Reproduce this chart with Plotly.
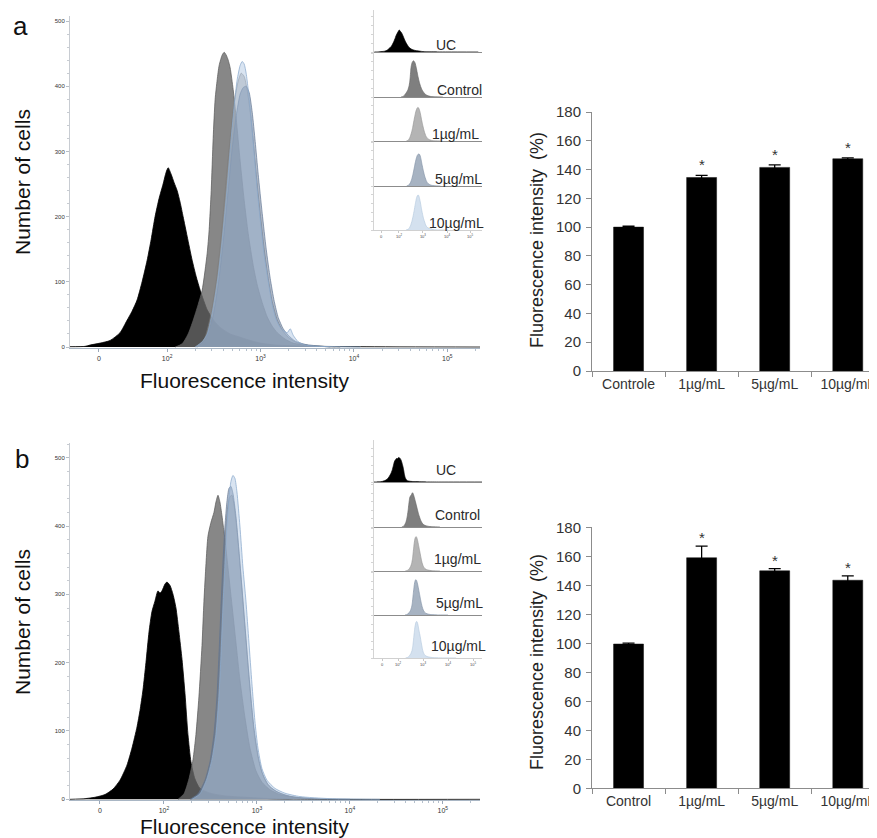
import numpy as np
import plotly.graph_objects as go

# The page body adds an 8px offset; the figure is sized so reference pixel p sits at figure pixel p-8.
OFF = 8
W, H = 877 - OFF, 838 - OFF

# ---------------- DATA ----------------
# Histogram x positions are in axis units (decades of fluorescence: 2 -> 10^2, 3 -> 10^3 ...)
# Panel a histograms
uc_a_x = [0.96, 1.12, 1.175, 1.282, 1.389, 1.496, 1.571, 1.625, 1.678, 1.732, 1.786, 1.829, 1.871, 1.914,
          1.957, 1.989, 2.011, 2.043, 2.075, 2.107, 2.139, 2.171, 2.214, 2.268, 2.311, 2.354, 2.429, 2.504,
          2.568, 2.675, 2.782, 2.890, 2.997, 3.158, 3.318, 3.640, 4.069, 5.35]
uc_a_y = [0.5, 1, 3, 6, 10, 22, 41, 55, 72, 100, 133, 165, 200, 228,
          250, 268, 275, 265, 252, 240, 222, 200, 170, 133, 108, 87, 57, 40,
          30, 20, 15, 10, 6, 3, 2, 1, 0.5, 0]

ctrl_a_x = [2.086, 2.161, 2.225, 2.279, 2.332, 2.375, 2.429, 2.450, 2.472, 2.493, 2.514, 2.536, 2.557, 2.590,
            2.611, 2.632, 2.654, 2.675, 2.707, 2.740, 2.782, 2.825, 2.868, 2.922, 2.965, 3.018, 3.072, 3.125,
            3.179, 3.265, 3.350, 3.533, 3.854]
ctrl_a_y = [0, 5, 20, 41, 65, 87, 144, 180, 240, 320, 380, 410, 432, 448,
            452, 448, 440, 428, 395, 350, 285, 225, 174, 125, 95, 68, 46, 32,
            22, 12, 6, 2, 0]

d1_a_x = [2.311, 2.397, 2.461, 2.525, 2.579, 2.632, 2.675, 2.718, 2.761, 2.793, 2.825, 2.857, 2.890, 2.922,
          2.954, 2.997, 3.040, 3.083, 3.125, 3.179, 3.233, 3.297, 3.383, 3.533, 3.801]
d1_a_y = [0, 12, 45, 100, 170, 255, 320, 375, 408, 420, 415, 395, 360, 315,
          265, 205, 150, 105, 70, 42, 26, 15, 7, 2, 0]

d5_a_x = [2.322, 2.407, 2.482, 2.547, 2.600, 2.654, 2.697, 2.740, 2.782, 2.815, 2.846, 2.879, 2.911, 2.943,
          2.975, 3.018, 3.061, 3.104, 3.147, 3.190, 3.243, 3.297, 3.372, 3.479, 3.747]
d5_a_y = [0, 10, 40, 95, 160, 240, 305, 355, 388, 398, 400, 390, 360, 315,
          265, 205, 150, 105, 70, 45, 28, 18, 9, 4, 0]

d10_a_x = [2.300, 2.375, 2.429, 2.493, 2.547, 2.590, 2.643, 2.686, 2.718, 2.750, 2.782, 2.804, 2.825, 2.846,
           2.868, 2.900, 2.933, 2.965, 2.997, 3.040, 3.083, 3.125, 3.168, 3.211, 3.254, 3.286, 3.318, 3.350,
           3.404, 3.479, 3.640, 4.069]
d10_a_y = [0, 8, 20, 60, 110, 165, 245, 320, 370, 410, 432, 438, 434, 420,
           395, 350, 295, 240, 195, 140, 100, 65, 42, 30, 24, 22, 28, 18,
           8, 3, 1, 0]

# Panel b histograms
uc_b_x = [0.989, 1.151, 1.258, 1.366, 1.452, 1.527, 1.602, 1.656, 1.710, 1.742, 1.774, 1.806, 1.839, 1.871,
          1.903, 1.935, 1.957, 1.978, 2.011, 2.032, 2.065, 2.097, 2.129, 2.161, 2.194, 2.226, 2.258, 2.290,
          2.333, 2.387, 2.495, 2.656, 2.871, 3.140, 3.677, 5.40]
uc_b_y = [0, 1, 3, 7, 15, 28, 50, 75, 106, 130, 160, 200, 245, 275,
          290, 305, 302, 305, 315, 318, 313, 300, 280, 245, 205, 155, 95, 55,
          30, 16, 9, 5, 3, 1, 0, 0]

ctrl_b_x = [2.151, 2.215, 2.269, 2.312, 2.344, 2.376, 2.409, 2.430, 2.452, 2.473, 2.505, 2.538, 2.559, 2.581,
            2.602, 2.624, 2.656, 2.688, 2.731, 2.774, 2.817, 2.871, 2.925, 2.989, 3.054, 3.140, 3.247, 3.409,
            3.677]
ctrl_b_y = [0, 8, 30, 58, 95, 150, 225, 290, 345, 385, 405, 420, 435, 445,
            435, 415, 380, 340, 285, 230, 175, 120, 75, 42, 25, 14, 7, 3,
            0]

d1_b_x = [2.290, 2.376, 2.452, 2.505, 2.548, 2.581, 2.602, 2.624, 2.645, 2.667, 2.688, 2.710, 2.731, 2.753,
          2.785, 2.817, 2.849, 2.882, 2.914, 2.946, 2.978, 3.022, 3.075, 3.140, 3.247, 3.409, 3.677]
d1_b_y = [0, 8, 30, 58, 100, 160, 220, 290, 350, 400, 430, 443, 445, 432,
          395, 345, 290, 235, 180, 130, 90, 55, 32, 18, 9, 3, 0]

d5_b_x = [2.280, 2.366, 2.441, 2.495, 2.538, 2.570, 2.591, 2.613, 2.634, 2.656, 2.677, 2.699, 2.720, 2.742,
          2.774, 2.806, 2.839, 2.871, 2.903, 2.935, 2.968, 3.011, 3.054, 3.118, 3.204, 3.333, 3.570, 4.000]
d5_b_y = [0, 8, 28, 55, 95, 150, 210, 280, 345, 400, 435, 455, 458, 448,
          415, 365, 310, 255, 200, 150, 105, 65, 40, 22, 12, 5, 1, 0]

d10_b_x = [2.301, 2.387, 2.462, 2.516, 2.559, 2.591, 2.613, 2.634, 2.656, 2.677, 2.699, 2.720, 2.742, 2.763,
           2.785, 2.817, 2.849, 2.882, 2.914, 2.946, 2.978, 3.011, 3.054, 3.108, 3.194, 3.301, 3.462, 3.785,
           4.323]
d10_b_y = [0, 8, 30, 58, 95, 150, 210, 280, 345, 400, 440, 465, 474, 470,
           450, 400, 340, 290, 230, 170, 115, 75, 45, 28, 16, 9, 4, 1,
           0]

hist_tick_text = ["0", "10<sup>2</sup>", "10<sup>3</sup>", "10<sup>4</sup>", "10<sup>5</sup>"]
group_names = ["UC", "Control", "1µg/mL", "5µg/mL", "10µg/mL"]

# Bar charts
bar_cats_a = ["Controle", "1µg/mL", "5µg/mL", "10µg/mL"]
bar_vals_a = [100, 134.5, 141.5, 147.5]
bar_errs_a = [0.6, 1.5, 1.8, 0.6]
bar_sig_a = [False, True, True, True]

bar_cats_b = ["Control", "1µg/mL", "5µg/mL", "10µg/mL"]
bar_vals_b = [99.5, 159, 150, 143.5]
bar_errs_b = [0.6, 8, 1.5, 3]
bar_sig_b = [False, True, True, True]

# ---------------- HELPERS ----------------
def fx(p):
    return (p - OFF) / W

def fy(p):
    return 1 - (p - OFF) / H

FONT = "Liberation Sans, Arial, sans-serif"

fills = [
    dict(fill="rgba(0,0,0,1)", line="rgba(0,0,0,1)"),
    dict(fill="rgba(105,105,105,0.80)", line="rgba(90,90,90,0.9)"),
    dict(fill="rgba(150,150,150,0.45)", line="rgba(120,120,120,0.7)"),
    dict(fill="rgba(100,120,150,0.50)", line="rgba(95,115,145,0.85)"),
    dict(fill="rgba(170,195,225,0.45)", line="rgba(140,170,205,0.95)"),
]
inset_fills = [
    dict(fill="#000000", line="#000000"),
    dict(fill="#7f7f7f", line="#6a6a6a"),
    dict(fill="#b4b4b4", line="#9a9a9a"),
    dict(fill="#a7b3c2", line="#8797ab"),
    dict(fill="#d4e1ef", line="#b8cbe0"),
]

fig = go.Figure()
layout = dict(width=W, height=H, margin=dict(l=0, r=0, t=0, b=0, pad=0, autoexpand=False), autosize=False,
              paper_bgcolor="white", plot_bgcolor="rgba(0,0,0,0)", showlegend=False,
              font=dict(family=FONT, color="#222"))
annotations = []

axis_counter = [0]

def new_axes():
    axis_counter[0] += 1
    n = axis_counter[0]
    s = "" if n == 1 else str(n)
    return "x" + s, "y" + s, "xaxis" + s, "yaxis" + s


def main_hist(series, xdom_px, ydom_px, xr, yr, ticks_u, minor_u):
    xa, ya, xk, yk = new_axes()
    for (xs, ys), c in zip(series, fills):
        fig.add_trace(go.Scatter(x=xs, y=ys, mode="lines", fill="tozeroy", fillcolor=c["fill"],
                                 line=dict(color=c["line"], width=0.8, shape="spline", smoothing=0.6),
                                 xaxis=xa, yaxis=ya, hoverinfo="skip"))
    layout[xk] = dict(domain=[fx(xdom_px[0]), fx(xdom_px[1])], range=xr, anchor=ya, automargin=False,
                      showline=True, linecolor="#a9b6c4", linewidth=1.2, zeroline=False, showgrid=False,
                      tickmode="array", tickvals=ticks_u, ticktext=hist_tick_text,
                      ticks="outside", ticklen=3, tickcolor="#9aa8b8",
                      tickfont=dict(size=7, color="#333"),
                      minor=dict(tickmode="array", tickvals=minor_u, ticks="outside", ticklen=2,
                                 tickcolor="#b5c0cc"))
    layout[yk] = dict(domain=[fy(ydom_px[1]), fy(ydom_px[0])], range=yr, anchor=xa, automargin=False,
                      showline=True, linecolor="#c8ccd2", linewidth=1, zeroline=False, showgrid=False,
                      tickmode="linear", tick0=0, dtick=100, ticks="outside", ticklen=3,
                      tickcolor="#b8bec6", tickfont=dict(size=6, color="#333"),
                      minor=dict(dtick=20, ticks="outside", ticklen=2, tickcolor="#c8ccd2"))


def inset(series, xdom_px, row_px, xr, ticks_u, scale, label_cx, label_off):
    nrows = len(series)
    for i, ((xs, ys), c) in enumerate(zip(series, inset_fills)):
        xa, ya, xk, yk = new_axes()
        top, bot = row_px[i], row_px[i + 1]
        fig.add_trace(go.Scatter(x=xs, y=ys, mode="lines", fill="tozeroy", fillcolor=c["fill"],
                                 line=dict(color=c["line"], width=0.7, shape="spline", smoothing=0.6),
                                 xaxis=xa, yaxis=ya, hoverinfo="skip"))
        last = i == nrows - 1
        layout[xk] = dict(domain=[fx(xdom_px[0]), fx(xdom_px[1])], range=xr, anchor=ya, automargin=False,
                          showline=True, linecolor="#d0d0d0" if last else "#8c8c8c",
                          linewidth=1 if last else 1.3, zeroline=False, showgrid=False,
                          tickmode="array", tickvals=ticks_u, ticktext=hist_tick_text,
                          showticklabels=last, ticks="outside" if last else "", ticklen=2,
                          tickcolor="#c8c8c8", tickfont=dict(size=4, color="#444"))
        layout[yk] = dict(domain=[fy(bot), fy(top)], range=[0, (bot - top) / scale], anchor=xa,
                          automargin=False,
                          showline=True, linecolor="#d4d4d4", linewidth=1, zeroline=False, showgrid=False,
                          showticklabels=False, ticks="outside", ticklen=2, tickcolor="#d4d4d4",
                          tickmode="linear", tick0=0, dtick=110)
        annotations.append(dict(x=fx(label_cx[i]), y=fy(bot - label_off), xref="paper", yref="paper",
                                text=group_names[i], showarrow=False, xanchor="center", yanchor="middle",
                                font=dict(size=14, color="#2a2a2a", family=FONT)))


def bars(cats, vals, errs, sig, xdom_px, ydom_px, star_shift):
    xa, ya, xk, yk = new_axes()
    fig.add_trace(go.Bar(x=cats, y=vals, width=0.41, marker=dict(color="black", line=dict(color="#111", width=0.5)),
                         error_y=dict(type="data", array=errs, visible=True, color="black", thickness=1.3, width=6),
                         xaxis=xa, yaxis=ya, hoverinfo="skip"))
    layout[xk] = dict(domain=[fx(xdom_px[0]), fx(xdom_px[1])], range=[-0.5, 3.4], anchor=ya, automargin=False,
                      type="category", tickson="boundaries", ticks="outside", ticklen=5, tickcolor="#8c8c8c",
                      showline=True, linecolor="#8c8c8c", linewidth=1, showgrid=False, zeroline=False,
                      tickfont=dict(size=14, color="#333"))
    layout[yk] = dict(domain=[fy(ydom_px[1]), fy(ydom_px[0])], range=[0, 180], anchor=xa, automargin=False,
                      tickmode="linear", tick0=0, dtick=20, ticks="outside", ticklen=5, tickcolor="#8c8c8c",
                      showline=True, linecolor="#8c8c8c", linewidth=1, showgrid=False, zeroline=False,
                      tickfont=dict(size=15, color="#333"), ticklabelstandoff=2)
    for c, v, e, s in zip(cats, vals, errs, sig):
        if s:
            annotations.append(dict(x=c, y=v + e, xref=xa, yref=ya, text="*", showarrow=False,
                                    yanchor="bottom", yshift=star_shift,
                                    font=dict(size=15, color="#333", family=FONT)))


# minor tick positions (axis styling)
minor_u = [n + np.log10(k) for n in (2, 3, 4) for k in range(2, 10)] + [5 + np.log10(k) for k in (2, 3)]

# ---------------- PANEL A ----------------
series_a = [(uc_a_x, uc_a_y), (ctrl_a_x, ctrl_a_y), (d1_a_x, d1_a_y), (d5_a_x, d5_a_y), (d10_a_x, d10_a_y)]
main_hist(series_a, (70, 480), (16, 348), [0.96, 5.35], [-1.5, 507.7],
          [1.27, 2, 3, 4, 5], minor_u)
inset(series_a, (374, 482), [10, 52, 97, 141, 186, 230], [0.944, 5.507],
      [1.24, 2, 3.01, 4.03, 5.0], 0.08, [446, 459, 455, 458, 456], 7)
bars(bar_cats_a, bar_vals_a, bar_errs_a, bar_sig_a, (592, 877), (112, 371), 0)

# ---------------- PANEL B ----------------
series_b = [(uc_b_x, uc_b_y), (ctrl_b_x, ctrl_b_y), (d1_b_x, d1_b_y), (d5_b_x, d5_b_y), (d10_b_x, d10_b_y)]
main_hist(series_b, (70, 480), (443, 800), [0.989, 5.40], [-1.0, 521.5],
          [1.31, 2, 3, 4, 5], minor_u)
inset(series_b, (374, 482), [440, 482, 527, 571, 615, 658], [1.04, 5.36],
      [1.36, 2, 3, 4, 5], 0.077, [446, 457, 457, 459, 458], 12)
bars(bar_cats_b, bar_vals_b, bar_errs_b, bar_sig_b, (592, 877), (527.3, 788.3), -2)

# ---------------- TEXT ----------------
def ann(text, x, y, size, angle=0, color="#111"):
    annotations.append(dict(x=fx(x), y=fy(y), xref="paper", yref="paper", text=text, showarrow=False,
                            xanchor="center", yanchor="middle", textangle=angle,
                            font=dict(size=size, color=color, family=FONT)))

ann("a", 20, 26, 26)
ann("b", 22, 459, 26)
ann("Number of cells", 22, 182, 21, -90)
ann("Number of cells", 22, 622, 21, -90)
ann("Fluorescence intensity", 245, 380, 21)
ann("Fluorescence intensity", 245, 826, 21)
ann("Fluorescence intensity\u2002(%)", 537, 240, 18, -90, "#222")
ann("Fluorescence intensity\u2002(%)", 537, 662, 18, -90, "#222")

layout["annotations"] = annotations
fig.update_layout(**layout)
fig.write_html("out.html")
